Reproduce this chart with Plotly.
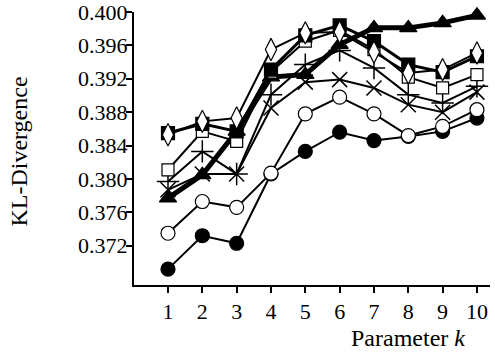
import plotly.graph_objects as go

k = [1, 2, 3, 4, 5, 6, 7, 8, 9, 10]
filled_circle = [0.3692, 0.3732, 0.3723, 0.3806, 0.3833, 0.3856, 0.3846, 0.3851, 0.3857, 0.3873]
open_circle = [0.3735, 0.3773, 0.3766, 0.3807, 0.3878, 0.3898, 0.3878, 0.3852, 0.3863, 0.3883]
cross_x = [0.3787, 0.3806, 0.3806, 0.3885, 0.3916, 0.3919, 0.3909, 0.3889, 0.3880, 0.3904]
plus = [0.3797, 0.3833, 0.3806, 0.3901, 0.3937, 0.3954, 0.3933, 0.3901, 0.3891, 0.3911]
open_square = [0.3811, 0.3857, 0.3845, 0.3928, 0.3965, 0.3978, 0.3955, 0.3922, 0.3909, 0.3925]
filled_square = [0.3855, 0.3866, 0.3857, 0.3931, 0.3972, 0.3984, 0.3965, 0.3937, 0.3928, 0.3947]
diamond = [0.3853, 0.3869, 0.3873, 0.3955, 0.3975, 0.3976, 0.3952, 0.3927, 0.3931, 0.3951]
triangle = [0.3777, 0.3805, 0.3857, 0.3922, 0.3925, 0.3961, 0.3981, 0.3981, 0.3987, 0.3996]

y_ticks = [0.372, 0.376, 0.380, 0.384, 0.388, 0.392, 0.396, 0.400]

FONT = "Liberation Serif"

fig = go.Figure()

def add(y, symbol, size, fill, lw, mlw=1.2):
    fig.add_trace(go.Scatter(
        x=k, y=y, mode="lines+markers",
        line=dict(color="black", width=lw),
        marker=dict(symbol=symbol, size=size, color=fill,
                    line=dict(color="black", width=mlw)),
        showlegend=False, cliponaxis=False, hoverinfo="skip"))

add(triangle, "triangle-up", 15, "black", 5)
add(filled_circle, "circle", 14, "black", 2)
add(open_circle, "circle", 14, "white", 2)
add(cross_x, "x-thin", 15, "black", 2, 1.5)
add(plus, "cross-thin", 16, "black", 2, 1.5)
add(open_square, "square", 12, "white", 2)
add(filled_square, "square", 13, "black", 3)
add(diamond, "diamond-tall", 16, "white", 2)

fig.update_layout(
    width=495, height=356,
    margin=dict(l=134, r=5, t=12, b=71, autoexpand=False),
    paper_bgcolor="white", plot_bgcolor="white",
    font=dict(family=FONT, size=22, color="black"),
    xaxis=dict(range=[0.01, 10.38], tickvals=k, ticktext=[str(v) for v in k],
               showgrid=False, zeroline=False, showline=True, linecolor="black",
               linewidth=2, ticks="outside", ticklen=6, tickwidth=2, tickcolor="black",
               ticklabeloverflow="allow", automargin=False),
    yaxis=dict(range=[0.3673, 0.4], tickvals=y_ticks,
               ticktext=[f"{v:.3f}" for v in y_ticks],
               showgrid=False, zeroline=False, showline=True, linecolor="black",
               linewidth=2, ticks="outside", ticklen=6, tickwidth=2, tickcolor="black",
               ticklabeloverflow="allow", automargin=False, ticklabelstandoff=-6),
    annotations=[
        dict(text="KL-Divergence", textangle=-90, xref="paper", yref="paper",
             x=-0.322, y=0.49, xanchor="center", yanchor="middle", showarrow=False,
             font=dict(family=FONT, size=24)),
        dict(text="Parameter <i>k</i>", xref="paper", yref="paper",
             x=0.935, y=-0.194, xanchor="right", yanchor="middle", showarrow=False,
             font=dict(family=FONT, size=24)),
    ],
)

fig.write_html("out.html", config={"displayModeBar": False, "staticPlot": True},
               post_script="document.body.style.margin='0';")
